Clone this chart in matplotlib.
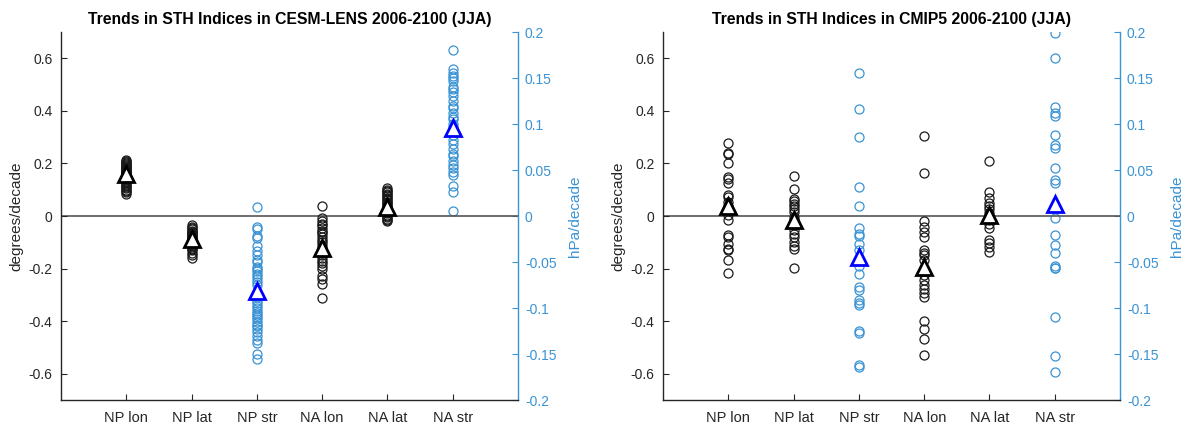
import matplotlib
matplotlib.use("Agg")
import matplotlib.pyplot as plt
from matplotlib.ticker import FuncFormatter

plt.rcParams['font.family'] = ['Liberation Sans', 'DejaVu Sans']

categories = ["NP lon", "NP lat", "NP str", "NA lon", "NA lat", "NA str"]
# which indices are pressure-based (plotted on the hPa/decade axis)
on_right = [False, False, True, False, False, True]

# CESM-LENS ensemble members, 2006-2100 JJA trends
lens_np_lon = [0.215, 0.21, 0.205, 0.2, 0.198, 0.195, 0.19, 0.188, 0.185, 0.182,
               0.18, 0.178, 0.175, 0.172, 0.17, 0.168, 0.165, 0.162, 0.16, 0.158,
               0.155, 0.152, 0.15, 0.148, 0.145, 0.142, 0.14, 0.135, 0.13, 0.125,
               0.12, 0.115, 0.11, 0.105, 0.1, 0.095, 0.09, 0.085]
lens_np_lat = [-0.035, -0.04, -0.045, -0.05, -0.055, -0.06, -0.062, -0.065, -0.068,
               -0.07, -0.072, -0.075, -0.078, -0.08, -0.082, -0.085, -0.088, -0.09,
               -0.092, -0.095, -0.098, -0.1, -0.105, -0.11, -0.115, -0.12, -0.125,
               -0.13, -0.14, -0.15, -0.16]
lens_np_str = [0.010, -0.012, -0.014, -0.022, -0.024, -0.033, -0.038, -0.042, -0.048,
               -0.050, -0.055, -0.058, -0.060, -0.063, -0.065, -0.068, -0.072, -0.075,
               -0.088, -0.092, -0.095, -0.098, -0.100, -0.103, -0.105, -0.108, -0.110,
               -0.112, -0.115, -0.118, -0.120, -0.123, -0.126, -0.130, -0.135, -0.138,
               -0.150, -0.155]
lens_na_lon = [0.039, -0.009, -0.02, -0.03, -0.035, -0.045, -0.055, -0.06, -0.07,
               -0.08, -0.09, -0.1, -0.11, -0.12, -0.125, -0.13, -0.14, -0.15, -0.16,
               -0.17, -0.18, -0.19, -0.2, -0.23, -0.24, -0.26, -0.31]
lens_na_lat = [0.105, 0.1, 0.095, 0.09, 0.085, 0.08, 0.075, 0.07, 0.065, 0.06, 0.055,
               0.05, 0.045, 0.04, 0.035, 0.03, 0.025, 0.02, 0.015, 0.01, 0.005, 0.0,
               -0.005, -0.01, -0.015, -0.02]
lens_na_str = [0.181, 0.160, 0.155, 0.152, 0.150, 0.147, 0.140, 0.138, 0.135, 0.130,
               0.125, 0.120, 0.118, 0.112, 0.108, 0.105, 0.100, 0.097, 0.093, 0.088,
               0.083, 0.078, 0.073, 0.068, 0.065, 0.060, 0.055, 0.052, 0.048, 0.045,
               0.033, 0.026, 0.006]
lens_mean = [0.16, -0.088, -0.082, -0.122, 0.035, 0.0955]

# CMIP5 models, 2006-2100 JJA trends
cmip_np_lon = [0.278, 0.24, 0.237, 0.2, 0.148, 0.142, 0.125, 0.08, 0.072, 0.053,
               0.037, 0.022, 0.003, -0.016, -0.073, -0.08, -0.105, -0.124, -0.13,
               -0.168, -0.216]
cmip_np_lat = [0.154, 0.104, 0.063, 0.056, 0.047, 0.037, 0.028, 0.015, -0.004,
               -0.016, -0.035, -0.054, -0.067, -0.08, -0.099, -0.115, -0.124, -0.196]
cmip_np_str = [0.155, 0.116, 0.086, 0.032, 0.011, -0.0134, -0.020, -0.022, -0.030,
               -0.037, -0.054, -0.0635, -0.077, -0.080, -0.091, -0.094, -0.097,
               -0.125, -0.127, -0.162, -0.164]
cmip_na_lon = [0.303, 0.164, -0.019, -0.040, -0.060, -0.078, -0.128, -0.139, -0.148,
               -0.167, -0.223, -0.242, -0.261, -0.278, -0.293, -0.308, -0.398,
               -0.429, -0.467, -0.53]
cmip_na_lat = [0.21, 0.092, 0.067, 0.05, 0.039, 0.025, 0.01, -0.015, -0.03, -0.047,
               -0.091, -0.101, -0.116, -0.135]
cmip_na_str = [0.199, 0.172, 0.119, 0.112, 0.109, 0.088, 0.077, 0.074, 0.052, 0.039,
               0.036, -0.0025, -0.021, -0.031, -0.040, -0.054, -0.056, -0.057,
               -0.110, -0.152, -0.170]
cmip_mean = [0.04, -0.014, -0.0446, -0.192, 0.004, 0.013]

lens_members = [lens_np_lon, lens_np_lat, lens_np_str, lens_na_lon, lens_na_lat, lens_na_str]
cmip_members = [cmip_np_lon, cmip_np_lat, cmip_np_str, cmip_na_lon, cmip_na_lat, cmip_na_str]

BLUE = '#3a93d4'
trim = FuncFormatter(lambda v, p: '%g' % round(v, 4) if abs(v) > 1e-9 else '0')


def draw_panel(ax, members, means, title):
    ax2 = ax.twinx()
    x = range(1, len(categories) + 1)
    ax.axhline(0, color='#555555', lw=1.2, zorder=1)
    for i, vals in zip(x, members):
        target = ax2 if on_right[i - 1] else ax
        col = BLUE if on_right[i - 1] else '#1a1a1a'
        target.plot([i] * len(vals), vals, 'o', ms=6.5, mfc='none', mec=col, mew=0.9, zorder=2)
    for i, m in zip(x, means):
        target = ax2 if on_right[i - 1] else ax
        col = '#0000ff' if on_right[i - 1] else 'black'
        target.plot([i], [m], '^', ms=11, mfc='white', mec=col, mew=2.0, zorder=5)

    ax.set_xlim(0, 7)
    ax.set_ylim(-0.7, 0.7)
    ax2.set_ylim(-0.2, 0.2)
    ax.set_xticks(list(x))
    ax.set_xticklabels(categories)
    ax.set_yticks([-0.6, -0.4, -0.2, 0, 0.2, 0.4, 0.6])
    ax.yaxis.set_major_formatter(trim)
    ax2.set_yticks([-0.2, -0.15, -0.1, -0.05, 0, 0.05, 0.1, 0.15, 0.2])
    ax2.yaxis.set_major_formatter(trim)

    for s in ['top', 'right']:
        ax.spines[s].set_visible(False)
    for s in ['top', 'left', 'bottom']:
        ax2.spines[s].set_visible(False)
    ax.spines['left'].set_color('#262626')
    ax.spines['bottom'].set_color('#262626')
    ax2.spines['right'].set_color(BLUE)
    for sp in list(ax.spines.values()) + list(ax2.spines.values()):
        sp.set_linewidth(1.0)

    ax.tick_params(direction='in', length=4, labelsize=10, colors='#262626', pad=6)
    ax.tick_params(axis='x', labelsize=10.5, pad=8)
    ax2.tick_params(direction='in', length=4, labelsize=10, colors=BLUE, pad=5)

    ax.set_ylabel('degrees/decade', fontsize=11, color='#262626', labelpad=4)
    ax2.set_ylabel('hPa/decade', fontsize=11, color=BLUE, labelpad=8)
    ax.set_title(title, fontsize=11.3, fontweight='bold', pad=6)
    ax.set_zorder(ax2.get_zorder() + 1)
    ax.patch.set_visible(False)


fig = plt.figure(figsize=(11.87, 4.28), dpi=100)
ax_l = fig.add_axes([0.0514, 0.0654, 0.385, 0.8596])
ax_r = fig.add_axes([0.5586, 0.0654, 0.385, 0.8596])

draw_panel(ax_l, lens_members, lens_mean, 'Trends in STH Indices in CESM-LENS 2006-2100 (JJA)')
draw_panel(ax_r, cmip_members, cmip_mean, 'Trends in STH Indices in CMIP5 2006-2100 (JJA)')

fig.savefig('out.png', dpi=100)
